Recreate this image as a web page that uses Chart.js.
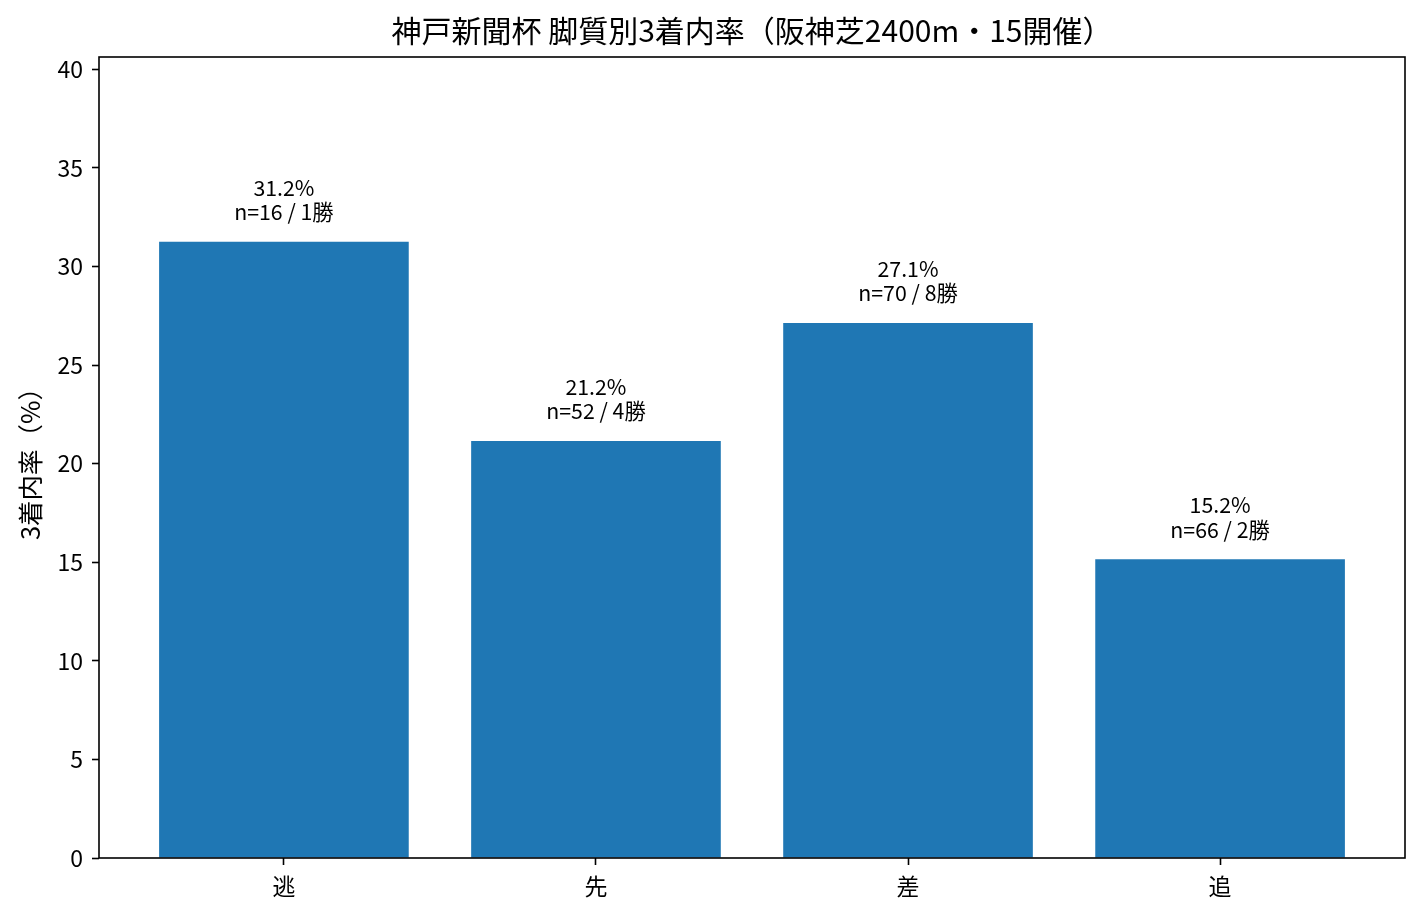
<!DOCTYPE html>
<html><head><meta charset="utf-8">
<script src="https://cdn.jsdelivr.net/npm/chart.js@4.4.0/dist/chart.umd.min.js"></script>
<style>html,body{margin:0;padding:0;background:#fff;} #wrap{width:1422px;height:919px;position:relative;}</style>
</head><body><div id="wrap"><canvas id="c"></canvas></div>
<script>
const categories = ['逃', '先', '差', '追'];
const rates = [31.25, 21.15, 27.14, 15.15];
const rateLabels = ['31.2%', '21.2%', '27.1%', '15.2%'];
const runners = [16, 52, 70, 66];
const wins = [1, 4, 8, 2];
const yTicks = [0, 5, 10, 15, 20, 25, 30, 35, 40];
const titleText = '神戸新聞杯 脚質別3着内率（阪神芝2400m・15開催）';
const yTitle = '3着内率（%）';

const FONT = "'Noto Sans CJK JP', 'Noto Sans', sans-serif";

const framePlugin = {
  id: 'frame',
  afterDraw(chart) {
    const {ctx, chartArea: a} = chart;
    ctx.save();
    ctx.strokeStyle = '#000';
    ctx.lineWidth = 1.6;
    ctx.strokeRect(a.left, a.top, a.right - a.left, a.bottom - a.top);
    // title centred over the plot area
    ctx.fillStyle = '#000';
    ctx.font = '30px ' + FONT;
    ctx.textAlign = 'center';
    ctx.textBaseline = 'middle';
    ctx.fillText(titleText, (a.left + a.right) / 2, 31);
    ctx.restore();
  }
};

const labelPlugin = {
  id: 'barLabels',
  afterDatasetsDraw(chart) {
    const ctx = chart.ctx;
    const meta = chart.getDatasetMeta(0);
    ctx.save();
    ctx.fillStyle = '#000';
    ctx.font = '21.3px ' + FONT;
    ctx.textAlign = 'center';
    ctx.textBaseline = 'alphabetic';
    meta.data.forEach((bar, i) => {
      ctx.fillText(rateLabels[i], bar.x, bar.y - 46);
      ctx.fillText('n=' + runners[i] + ' / ' + wins[i] + '勝', bar.x, bar.y - 21.5);
    });
    ctx.restore();
  }
};

new Chart(document.getElementById('c'), {
  type: 'bar',
  data: {
    datasets: [{
      data: categories.map((c, i) => ({x: i, y: rates[i]})),
      backgroundColor: '#1f77b4',
      borderWidth: 0,
      barPercentage: 0.8,
      categoryPercentage: 1.0
    }]
  },
  options: {
    responsive: true,
    maintainAspectRatio: false,
    animation: false,
    layout: {padding: {top: 57, right: 17, bottom: 0, left: 0}},
    plugins: {
      legend: {display: false},
      tooltip: {enabled: false},
      title: {display: false}
    },
    scales: {
      x: {
        type: 'linear',
        min: -0.5926,
        max: 3.5926,
        offset: false,
        afterBuildTicks: s => { s.ticks = categories.map((c, i) => ({value: i})); },
        afterFit: s => { s.height = 61; },
        border: {display: false},
        grid: {offset: false, drawOnChartArea: false, drawTicks: true, tickLength: 7, tickColor: '#000', tickWidth: 1.6, color: '#000'},
        ticks: {
          color: '#000',
          font: {family: FONT, size: 23},
          padding: 7,
          maxRotation: 0,
          autoSkip: false,
          callback: v => categories[v]
        }
      },
      y: {
        min: 0,
        max: 40.625,
        afterBuildTicks: s => { s.ticks = yTicks.map(v => ({value: v})); },
        afterFit: s => { s.width = 99; },
        border: {display: false},
        grid: {drawOnChartArea: false, drawTicks: true, tickLength: 7, tickColor: '#000', tickWidth: 1.6, color: '#000'},
        ticks: {
          color: '#000',
          font: {family: FONT, size: 23},
          padding: 9,
          autoSkip: false,
          callback: v => String(v)
        },
        title: {
          display: true,
          text: yTitle,
          color: '#000',
          font: {family: FONT, size: 25.5},
          padding: {top: 14.7, bottom: 0}
        }
      }
    }
  },
  plugins: [framePlugin, labelPlugin]
});
</script>
</body></html>
